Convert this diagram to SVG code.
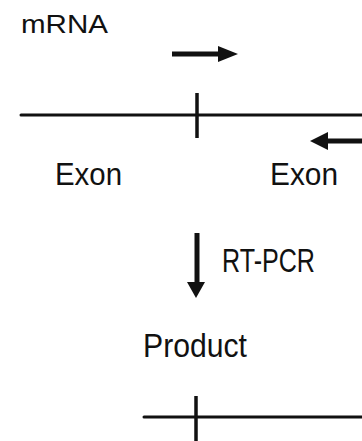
<svg xmlns="http://www.w3.org/2000/svg" width="362" height="441" viewBox="0 0 362 441">
<style>
text{font-family:"Liberation Sans",Arial,sans-serif;font-size:31px;fill:#111}
.ln{stroke:#111;stroke-width:3;fill:none;stroke-linecap:round}
.tk{stroke:#111;stroke-width:3.5;fill:none}
.sh{stroke:#111;stroke-width:5;fill:none}
.hd{fill:#111;stroke:none}
</style>
<rect width="362" height="441" fill="#fff"/>
<g id="label-mrna"><text x="21" y="33" textLength="87" lengthAdjust="spacingAndGlyphs" style="font-size:26px">mRNA</text></g>
<g id="mrna">
<line class="ln" x1="21" y1="115" x2="362" y2="115"/>
<line class="tk" x1="197" y1="93" x2="197" y2="138"/>
</g>
<g id="exon-left"><text x="55" y="185" textLength="67" lengthAdjust="spacingAndGlyphs">Exon</text></g>
<g id="exon-right"><text x="270" y="185" textLength="68" lengthAdjust="spacingAndGlyphs">Exon</text></g>
<g id="label-rtpcr"><text x="222" y="272" textLength="93" lengthAdjust="spacingAndGlyphs" style="font-size:33px">RT-PCR</text></g>
<g id="label-product"><text x="143" y="357" textLength="104" lengthAdjust="spacingAndGlyphs" style="font-size:33px">Product</text></g>
<g id="product">
<line class="ln" x1="144" y1="417" x2="362" y2="417"/>
<line class="tk" x1="196" y1="396" x2="196" y2="441"/>
</g>
<g id="connectors">
<g id="primer-forward">
<line class="sh" x1="172" y1="54" x2="220" y2="54"/>
<polygon class="hd" points="218,46 238,54 218,62"/>
</g>
<g id="primer-reverse">
<line class="sh" x1="326" y1="141" x2="362" y2="141"/>
<polygon class="hd" points="328,132 310,141 328,150"/>
</g>
<g id="arrow-rtpcr">
<line class="sh" x1="197" y1="233" x2="197" y2="284"/>
<polygon class="hd" points="187,282 205,282 196,298"/>
</g>
</g>
</svg>
